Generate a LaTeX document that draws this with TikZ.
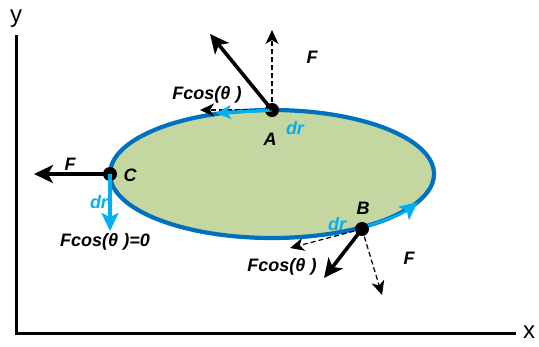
\documentclass[tikz,border=0pt]{standalone}
\usepackage{fontspec}
\setmainfont{Liberation Sans}
\usetikzlibrary{arrows.meta}
\definecolor{fillg}{RGB}{197,215,160}
\definecolor{edgeb}{RGB}{0,112,192}
\definecolor{cyanb}{RGB}{0,176,240}
\begin{document}
\begin{tikzpicture}[x=1pt,y=-1pt,
  lbl/.style={font=\bfseries\itshape\fontsize{18}{20}\selectfont,inner sep=0pt},
  dlbl/.style={lbl,text=cyanb},
  force/.style={line width=3.6pt,-{Stealth[length=19pt,width=18pt,inset=5pt]}},
  dforce/.style={line width=1.2pt,dash pattern=on 5pt off 3pt,-{Stealth[length=14pt,width=13pt,inset=4pt]}},
  drarrow/.style={cyanb,line width=3.2pt,-{Stealth[length=18pt,width=17pt,inset=4pt]}},
  dotpt/.style={circle,fill=black,inner sep=0pt,minimum size=14pt},
  axis/.style={line width=3pt}]
\useasboundingbox (0,0) rectangle (539,346);
% axes
\coordinate (o) at (16,333);
\coordinate (ytop) at (16,35);
\coordinate (xend) at (516,333);
\draw[axis] (ytop) -- (o) -- (xend);
\node[font=\fontsize{24}{26}\selectfont,inner sep=0pt] (ylab) at (16,19) {y};
\node[font=\fontsize{24}{26}\selectfont,inner sep=0pt] (xlab) at (529,332) {x};
% ellipse
\draw[edgeb,line width=4.2pt,fill=fillg] (272,174) ellipse [x radius=162,y radius=64];
% dr arc near B
\draw[drarrow,line width=2.4pt] (272,174) ++(56:162 and 64) arc[start angle=56,end angle=26,x radius=162,y radius=64];
% points
\node[dotpt] (A) at (272,110) {};
\node[dotpt] (B) at (362,229) {};
\node[dotpt] (C) at (110,174) {};
% A
\coordinate (Af) at (210,34);
\coordinate (Ay) at (272,30);
\coordinate (Ax) at (200,110);
\coordinate (Adr) at (216,113);
\draw[dforce] (A.center) -- (Ay);
\draw[dforce] (A.center) -- (Ax);
\draw[drarrow,-{Stealth[length=15pt,width=14pt,inset=4pt]}] (A.center) -- (Adr);
\draw[force] (A.center) -- (Af);
\node[lbl] (AF) at (312,57) {F};
\node[lbl] (Acos) at (207,95) {Fcos(θ )};
\node[lbl] (Alab) at (270,139) {A};
\node[dlbl] (Adrl) at (295,128) {dr};
% C
\coordinate (Cf) at (34,174);
\coordinate (Cdr) at (110,231);
\draw[force] (C.center) -- (Cf);
\draw[drarrow] (C.center) -- (Cdr);
\node[lbl] (CF) at (70,164) {F};
\node[lbl] (Clab) at (130,175) {C};
\node[dlbl] (Cdrl) at (99,202) {dr};
\node[lbl] (Ccos) at (105,242) {Fcos(θ )=0};
% B
\coordinate (Bf) at (324,278);
\coordinate (By) at (382,295);
\coordinate (Bx) at (290,248);
\draw[dforce] (B.center) -- (By);
\draw[dforce] (B.center) -- (Bx);
\draw[force] (B.center) -- (Bf);
\node[lbl] (Blab) at (363,208) {B};
\node[dlbl] (Bdrl) at (337,224) {dr};
\node[lbl] (BF) at (409,258) {F};
\node[lbl] (Bcos) at (282,267) {Fcos(θ )};
\end{tikzpicture}
\end{document}
